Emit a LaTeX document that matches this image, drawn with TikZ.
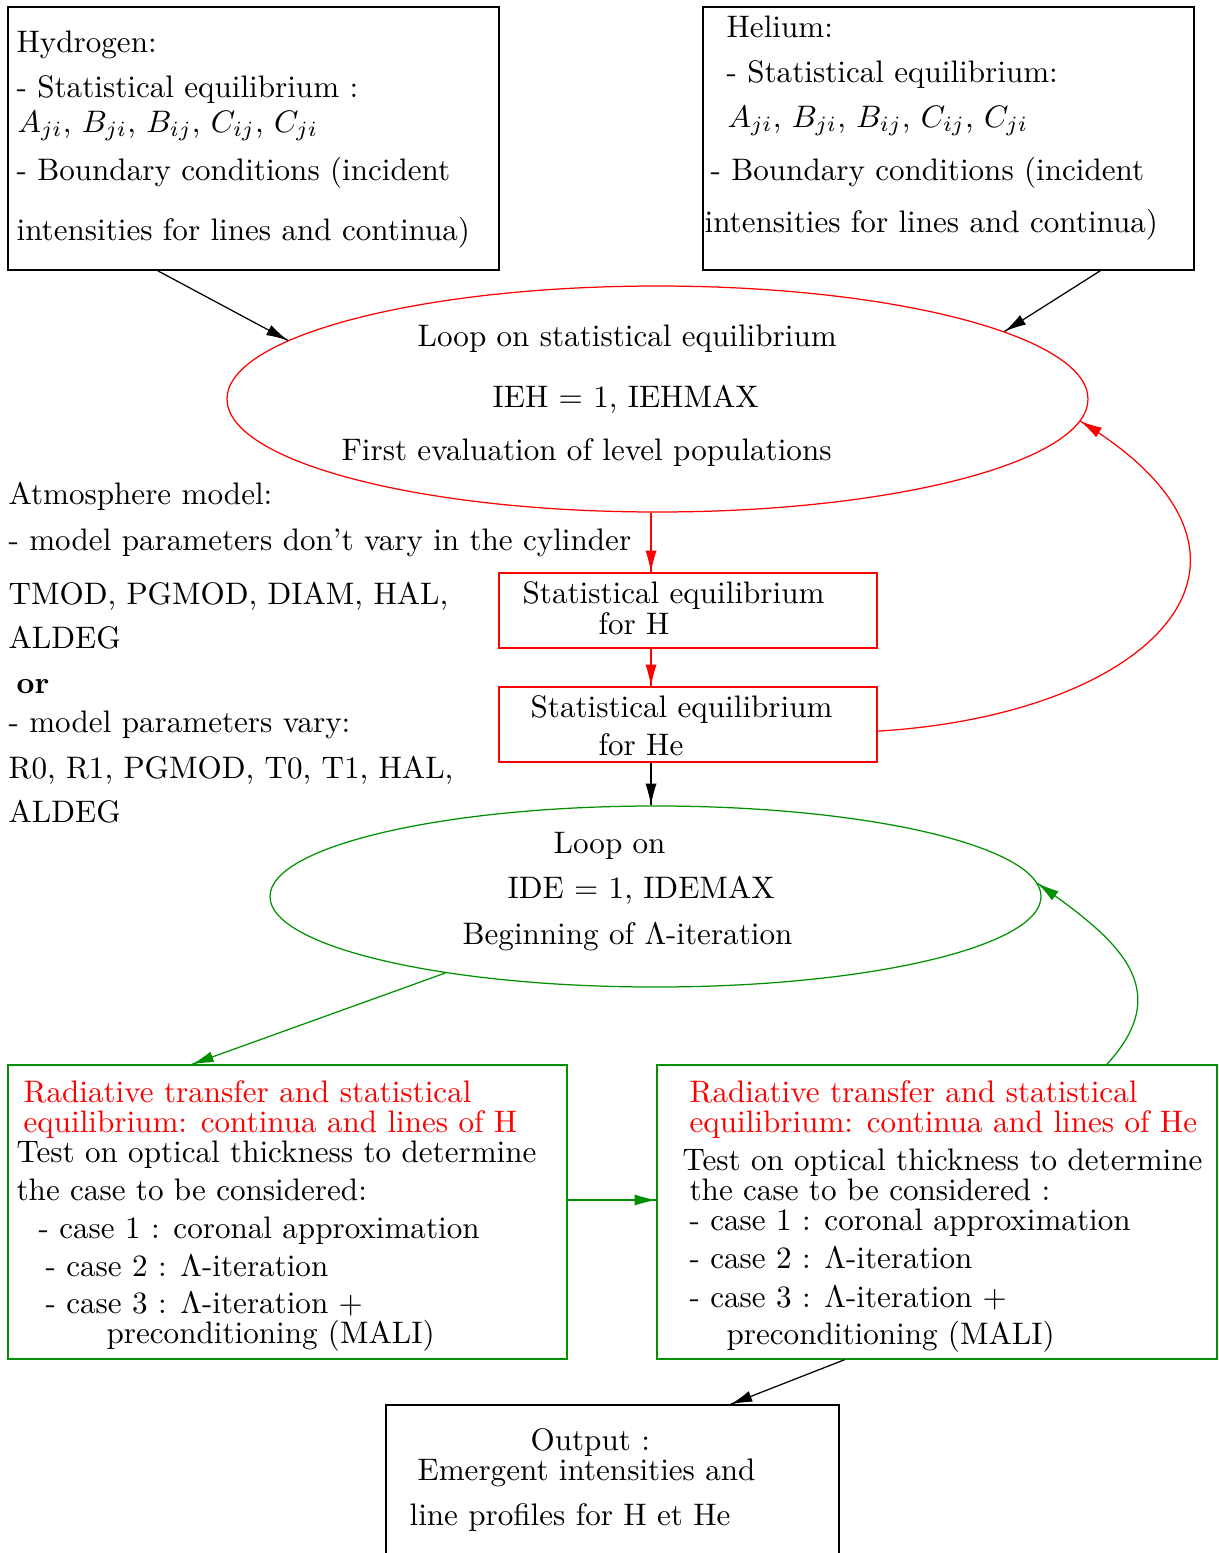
\documentclass[tikz,border=0pt]{standalone}
\usepackage{amsmath}
\usepackage{amssymb}
\usepackage{tikz}
\usetikzlibrary{arrows.meta}
\usetikzlibrary{decorations.markings}
\usetikzlibrary{shapes.geometric}
\usetikzlibrary{fit}
\definecolor{figgreen}{RGB}{0,144,0}
\tikzset{->/.style = {decoration={markings,
                                  mark=at position 0.9999 with {\arrow{Latex[length=7pt,width=3.6pt]}}},
                      postaction={decorate}}}
\tikzset{txt/.style = {anchor=base west, inner sep=0pt}}
\tikzset{box/.style = {draw, inner sep=0pt}}

\begin{document}
\begin{tikzpicture}[x=0.3215pt, y=-0.3215pt]
      \useasboundingbox (0,0) rectangle (1218,1553);

      % data for H and He
      \node (hyd) [box, fit={(8,7) (499,270)}] {};
      \node (hydl1) [txt] at (16,52) {Hydrogen:};
      \node (hydl2) [txt] at (16,97) {- Statistical equilibrium :};
      \node (hydl3) [txt] at (17,132) {$A_{ji}$, $B_{ji}$, $B_{ij}$, $C_{ij}$, $C_{ji}$};
      \node (hydl4) [txt] at (16,180) {- Boundary conditions (incident};
      \node (hydl5) [txt] at (16,240) {intensities for lines and continua)};

      \node (hel) [box, fit={(703,7) (1194,270)}] {};
      \node (hell1) [txt] at (726,37) {Helium:};
      \node (hell2) [txt] at (726,82) {- Statistical equilibrium:};
      \node (hell3) [txt] at (727,127) {$A_{ji}$, $B_{ji}$, $B_{ij}$, $C_{ij}$, $C_{ji}$};
      \node (hell4) [txt] at (710,180) {- Boundary conditions (incident};
      \node (hell5) [txt] at (704,232) {intensities for lines and continua)};

      % outer loop (fit box = axes / sqrt 2)
      \node (loopeq) [ellipse, draw, red, inner sep=0pt, fit={(353.1,319.1) (961.9,478.9)}] {};
      \node (loopeql1) [txt] at (417,346) {Loop on statistical equilibrium};
      \node (loopeql2) [txt] at (492,407) {IEH $=$ 1, IEHMAX};
      \node (loopeql3) [txt] at (341,460) {First evaluation of level populations};

      % atmosphere model
      \node (atml1) [txt] at (8,504) {Atmosphere model:};
      \node (atml2) [txt] at (8,550) {- model parameters don't vary in the cylinder};
      \node (atml3) [txt] at (8,604) {TMOD, PGMOD, DIAM, HAL,};
      \node (atml4) [txt] at (8,648) {ALDEG};
      \node (atml5) [txt] at (16,693) {\textbf{or}};
      \node (atml6) [txt] at (8,732) {- model parameters vary:};
      \node (atml7) [txt] at (8,778) {R0, R1, PGMOD, T0, T1, HAL,};
      \node (atml8) [txt] at (8,822) {ALDEG};

      \node (eqh) [box, red, fit={(499,573) (877,648)}] {};
      \node (eqhl1) [txt] at (522,603) {Statistical equilibrium};
      \node (eqhl2) [txt] at (598,634) {for H};

      \node (eqhe) [box, red, fit={(499,687) (877,762)}] {};
      \node (eqhel1) [txt] at (530,717) {Statistical equilibrium};
      \node (eqhel2) [txt] at (598,755) {for He};

      % inner loop
      \node (loopide) [ellipse, draw, figgreen, inner sep=0pt, fit={(382.9,832.5) (928.1,960.5)}] {};
      \node (loopidel1) [txt] at (553,853) {Loop on};
      \node (loopidel2) [txt] at (507,898) {IDE $=$ 1, IDEMAX};
      \node (loopidel3) [txt] at (462,944) {Beginning of $\Lambda$-iteration};

      \node (rth) [box, figgreen, fit={(8,1065) (567,1359)}] {};
      \node (rthl1) [txt, red] at (23,1102) {Radiative transfer and statistical};
      \node (rthl2) [txt, red] at (23,1132) {equilibrium: continua and lines of H};
      \node (rthl3) [txt] at (16,1162) {Test on optical thickness to determine};
      \node (rthl4) [txt] at (16,1200) {the case to be considered:};
      \node (rthl5) [txt] at (38,1238) {- case 1 : coronal approximation};
      \node (rthl6) [txt] at (45,1276) {- case 2 : $\Lambda$-iteration};
      \node (rthl7) [txt] at (45,1313) {- case 3 : $\Lambda$-iteration $+$};
      \node (rthl8) [txt] at (106,1343) {preconditioning (MALI)};

      \node (rthe) [box, figgreen, fit={(657,1065) (1217,1359)}] {};
      \node (rthel1) [txt, red] at (689,1102) {Radiative transfer and statistical};
      \node (rthel2) [txt, red] at (689,1132) {equilibrium: continua and lines of He};
      \node (rthel3) [txt] at (682,1170) {Test on optical thickness to determine};
      \node (rthel4) [txt] at (689,1200) {the case to be considered :};
      \node (rthel5) [txt] at (689,1230) {- case 1 : coronal approximation};
      \node (rthel6) [txt] at (689,1268) {- case 2 : $\Lambda$-iteration};
      \node (rthel7) [txt] at (689,1307) {- case 3 : $\Lambda$-iteration $+$};
      \node (rthel8) [txt] at (726,1344) {preconditioning (MALI)};

      % result
      \node (outp) [box, fit={(386,1405) (839,1575)}] {};
      \node (outpl1) [txt] at (530,1450) {Output :};
      \node (outpl2) [txt] at (417,1480) {Emergent intensities and};
      \node (outpl3) [txt] at (409,1525) {line profiles for H et He};

      \coordinate (spine) at (651,0);
      \coordinate (row) at (0,1200);

      \draw [->] (hyd.-126) -- (loopeq.171);
      \draw [->] (hel.-41.7) -- (loopeq.11);
      \draw [red, ->] (loopeq.south -| spine) -- (eqh.north -| spine);
      \draw [red, ->] (eqh.south -| spine) -- (eqhe.north -| spine);
      \draw [red, ->] (eqhe.-2) .. controls (1150,715) and (1310,560) .. (loopeq.-3);
      \draw [->] (eqhe.south -| spine) -- (loopide.north -| spine);

      \draw [figgreen, ->] (loopide.200) -- (rth.123.4);
      \draw [figgreen, ->] (rth.east |- row) -- (rthe.west |- row);
      \draw [figgreen, ->] (rthe.41.6) .. controls (1180,985) and (1110,935) .. (loopide.2);

      \draw [->] (rthe.-122) -- (outp.36.6);
\end{tikzpicture}
\end{document}
